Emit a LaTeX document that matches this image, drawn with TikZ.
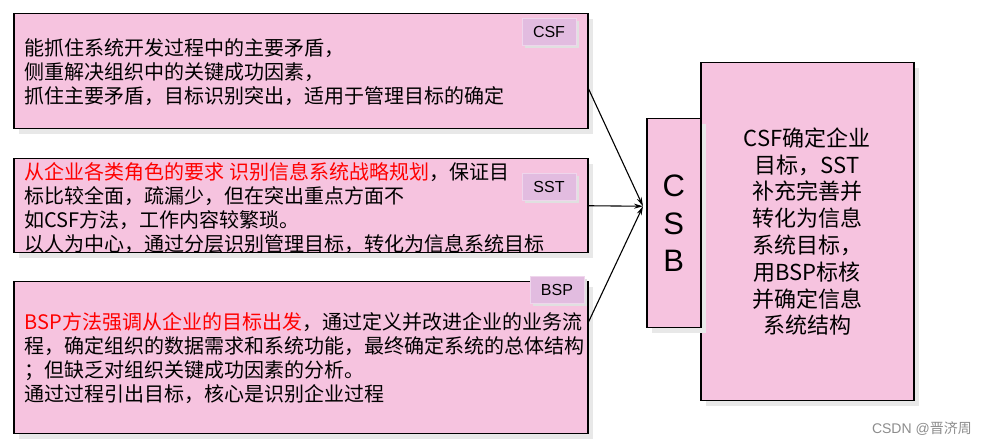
\documentclass[tikz,border=0pt]{standalone}
\usepackage{fontspec}
\setmainfont{Noto Sans CJK SC}
\newfontfamily\latinsf{Liberation Sans}
\usepackage{tikz}
\usetikzlibrary{arrows.meta, shadows}
\definecolor{boxpink}{HTML}{F6C3DF}
\definecolor{tagpurple}{HTML}{E2BCE0}
\definecolor{tagedge}{HTML}{EFD6EC}
\tikzset{pinkbox/.style={draw=black, line width=1.5pt, fill=boxpink, inner sep=0pt, drop shadow={shadow xshift=5pt, shadow yshift=-5pt, fill=black!9, opacity=1}}}
\tikzset{tagbox/.style={draw=tagedge, line width=1pt, fill=tagpurple, minimum width=54pt, minimum height=27pt, inner sep=0pt, font=\latinsf\fontsize{16}{18}\selectfont, drop shadow={shadow xshift=3pt, shadow yshift=-3pt, fill=black!12, opacity=1}}}
\tikzset{bodytext/.style={anchor=west, align=left, inner sep=0pt, font=\fontsize{20}{24}\selectfont}}
\tikzset{arr/.style={-{Stealth[length=9pt,width=5pt]}, line width=1.1pt}}

\begin{document}
\begin{tikzpicture}[x=1pt, y=-1pt]
\useasboundingbox (0,0) rectangle (986,446);
\node[pinkbox, minimum width=574pt, minimum height=115pt, anchor=north west] (csfbox) at (13,13) {};
\node[pinkbox, minimum width=574pt, minimum height=94pt, anchor=north west] (sstbox) at (13,158) {};
\node[pinkbox, minimum width=574pt, minimum height=152pt, anchor=north west] (bspbox) at (13,281) {};
\node[pinkbox, minimum width=213pt, minimum height=338pt, anchor=north west, align=center, font=\fontsize{22}{26.8}\selectfont] (goal) at (700,62) {CSF确定企业\\目标，SST\\补充完善并\\转化为信息\\系统目标，\\用BSP标核\\并确定信息\\系统结构};
\node[pinkbox, minimum width=54pt, minimum height=209pt, anchor=north west, align=center, font=\latinsf\fontsize{31}{37.5}\selectfont] (csb) at (646,118) {C\\S\\B};

\node[bodytext] (csftext) at ([xshift=11.5pt,yshift=-1pt]csfbox.west) {能抓住系统开发过程中的主要矛盾，\\侧重解决组织中的关键成功因素，\\抓住主要矛盾，目标识别突出，适用于管理目标的确定};
\node[bodytext] (ssttext) at ([xshift=11.5pt,yshift=-2pt]sstbox.west) {\textcolor{red}{从企业各类角色的要求 识别信息系统战略规划}，保证目\\标比较全面，疏漏少，但在突出重点方面不\\如CSF方法，工作内容较繁琐。\\以人为中心，通过分层识别管理目标，转化为信息系统目标};
\node[bodytext] (bsptext) at ([xshift=11.5pt]bspbox.west) {\textcolor{red}{BSP方法强调从企业的目标出发}，通过定义并改进企业的业务流\\程，确定组织的数据需求和系统功能，最终确定系统的总体结构\\；但缺乏对组织关键成功因素的分析。\\通过过程引出目标，核心是识别企业过程};

\node[tagbox] (csftag) at (549,32) {CSF};
\node[tagbox] (ssttag) at (549,187) {SST};
\node[tagbox] (bsptag) at (557,290) {BSP};

\coordinate (hub) at ([xshift=-3pt,yshift=17pt]csb.west);
\draw[arr] ([yshift=-17.5pt]csfbox.east) -- (hub);
\draw[arr] (sstbox.east) -- (hub);
\draw[arr] ([yshift=-41pt]bspbox.north east) -- (hub);

\node[text=black!45, anchor=east, inner sep=0pt, font=\fontsize{14}{16}\selectfont] (mark) at (972,429) {{\latinsf CSDN @}晋济周};
\end{tikzpicture}
\end{document}
